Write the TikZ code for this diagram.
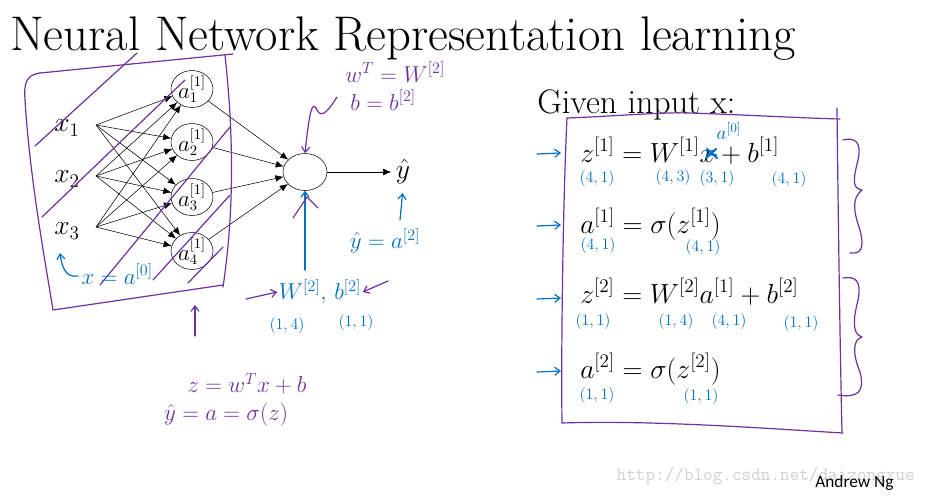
\documentclass[tikz,border=0pt]{standalone}
\usepackage{fontspec}
\newfontfamily\calibri{Carlito}
\usetikzlibrary{arrows.meta,shapes.geometric}
\definecolor{penc}{RGB}{112,48,160}
\definecolor{inkc}{RGB}{0,112,192}
\begin{document}
\begin{tikzpicture}[x=0.75pt,y=-0.75pt,
  neuron/.style={ellipse,draw,thin,inner sep=0pt,minimum width=31.5pt,minimum height=24pt,font=\fontsize{16}{18}\selectfont},
  conn/.style={-{Latex[length=6pt,width=5pt]},thin},
  pen/.style={draw=penc,line width=0.9pt,line cap=round,line join=round},
  ink/.style={draw=inkc,line width=0.9pt,line cap=round,line join=round},
  barb/.style={-{Straight Barb[length=4pt,width=6pt]}},
  pentext/.style={text=penc,font=\fontsize{18}{20}\selectfont},
  inktext/.style={text=inkc,font=\fontsize{18}{20}\selectfont},
  dim/.style={text=inkc,font=\fontsize{13}{15}\selectfont},
  eq/.style={anchor=base west,inner sep=0pt,font=\fontsize{22}{26}\selectfont}]
\useasboundingbox (0,0) rectangle (932,497);
\fill[white] (0,0) rectangle (932,497);

% title
\node[anchor=base west,inner sep=0pt,font=\fontsize{36.5}{42}\selectfont] (title) at (10,50) {Neural Network Representation learning};

% inputs
\node[font=\fontsize{21}{24}\selectfont] (x1) at (67,128) {$x_1$};
\node[font=\fontsize{21}{24}\selectfont] (x2) at (67,179) {$x_2$};
\node[font=\fontsize{21}{24}\selectfont] (x3) at (67,231) {$x_3$};
\coordinate (p1) at (96,125);
\coordinate (p2) at (96,176);
\coordinate (p3) at (96,227);

% hidden
\node[neuron] (h1) at (192,89) {$a^{[1]}_1$};
\node[neuron] (h2) at (192,142) {$a^{[1]}_2$};
\node[neuron] (h3) at (192,197) {$a^{[1]}_3$};
\node[neuron] (h4) at (192,251) {$a^{[1]}_4$};

\foreach \p in {p1,p2,p3}
  \foreach \h in {h1,h2,h3,h4}
    \draw[conn] (\p) -- (\h);

% output
\node[neuron,minimum width=33pt,minimum height=27.75pt] (out) at (305,172) {};
\foreach \h in {h1,h2,h3,h4}
  \draw[conn] (\h) -- (out);
\node[font=\fontsize{21}{24}\selectfont] (yh) at (403,172) {$\hat y$};
\draw[conn] (out) -- (yh);

% purple box around inputs and strokes
\draw[pen] (40,73) -- (233,54);
\draw[pen] (225,55) .. controls (232,120) and (236,200) .. (223,287);
\draw[pen] (40,73) .. controls (25,75) and (24,85) .. (25,100) .. controls (30,180) and (45,260) .. (53,310) -- (223,285);
\draw[pen] (35,146) -- (137,53);
\draw[pen] (42,217) -- (185,80);
\draw[pen] (100,285) -- (230,127);
\draw[pen] (153,280) -- (230,195);
\draw[pen] (188,283) -- (223,247);

% x = a[0]
\coordinate (xa) at (60,253);
\draw[ink,barb] (78,276) .. controls (66,278) and (62,268) .. (xa);
\node[inktext,anchor=west,inner sep=1pt] (xeq) at (80,274) {$x = a^{[0]}$};

% up arrow below box
\coordinate (ua1) at (195,336);
\coordinate (ua2) at (195,305);
\draw[pen,barb] (ua1) -- (ua2);

% squiggle into output
\coordinate (sq) at (337,97);
\draw[pen,barb] (sq) .. controls (330,108) and (322,120) .. (317,110) .. controls (312,98) and (309,115) .. (out.north);
\node[pentext,anchor=west,inner sep=0pt] (wt) at (345,72) {$w^{T} = W^{[2]}$};
\node[pentext,anchor=west,inner sep=0pt] (bb) at (350,100) {$b = b^{[2]}$};

% arrow from below into output
\coordinate (ub) at (305,270);
\draw[ink,barb] (ub) -- (out.south);
\draw[pen] (293,218) -- (307,197) -- (318,208);

% W2, b2
\node[inktext,inner sep=1pt] (wb) at (320,292) {$W^{[2]},\,b^{[2]}$};
\draw[pen,barb] (246,299) -- (wb.west);
\draw[pen,barb] (388,281) -- (wb.east);
\node[dim] (d14) at (287,325) {$(1,4)$};
\node[dim] (d11) at (356,322) {$(1,1)$};

% yhat = a2
\node[inktext,inner sep=0pt] (ya) at (385,241) {$\hat y = a^{[2]}$};
\coordinate (yb) at (400,220);
\draw[ink,barb,shorten >=3pt] (yb) -- (yh.south);

% logistic regression notes
\node[pentext,inner sep=0pt] (zeq) at (247,384) {$z = w^{T}x + b$};
\node[pentext,inner sep=0pt] (yeq) at (226,415) {$\hat y = a = \sigma(z)$};

% right side
\node[anchor=base west,inner sep=0pt,font=\fontsize{25.5}{30}\selectfont] (given) at (537,113) {Given input x:};
\draw[pen] (567,118) .. controls (620,116) and (660,112) .. (690,113) .. controls (750,115) and (800,118) .. (840,119);
\draw[pen] (837,108) .. controls (838,200) and (840,350) .. (842,432);
\draw[pen] (567,118) .. controls (563,200) and (561,350) .. (562,423) .. controls (650,420) and (760,428) .. (843,433);

\node[eq] (e1) at (580,162) {$z^{[1]} = W^{[1]}x + b^{[1]}$};
\node[eq] (e2) at (580,233) {$a^{[1]} = \sigma(z^{[1]})$};
\node[eq] (e3) at (580,303) {$z^{[2]} = W^{[2]}a^{[1]} + b^{[2]}$};
\node[eq] (e4) at (580,378) {$a^{[2]} = \sigma(z^{[2]})$};

% scribble on x and a[0]
\draw[ink,line width=1.6pt] (707,149) -- (717,158) (706,158) -- (716,149) (708,154) -- (716,155);
\node[dim,font=\fontsize{14}{16}\selectfont] (a0) at (729,131) {$a^{[0]}$};

\node[dim] at (597,178) {$(4,1)$};
\node[dim] at (673,177) {$(4,3)$};
\node[dim] at (717,178) {$(3,1)$};
\node[dim] at (789,179) {$(4,1)$};
\node[dim] at (598,245) {$(4,1)$};
\node[dim] at (703,247) {$(4,1)$};
\node[dim] at (593,321) {$(1,1)$};
\node[dim] at (676,321) {$(1,4)$};
\node[dim] at (729,321) {$(4,1)$};
\node[dim] at (801,323) {$(1,1)$};
\node[dim] at (597,395) {$(1,1)$};
\node[dim] at (701,396) {$(1,1)$};

% row arrows
\foreach \y in {153,225,298,371}{
  \draw[ink,barb] (537,\y+1) -- (561,\y);
}

% braces
\draw[pen] (843,140) .. controls (855,137) and (862,142) .. (858,160) .. controls (853,180) and (852,188) .. (862,190) .. controls (852,198) and (853,210) .. (860,230) .. controls (865,250) and (860,254) .. (850,253);
\draw[pen] (843,278) .. controls (855,276) and (862,280) .. (858,300) .. controls (853,320) and (852,334) .. (862,337) .. controls (852,340) and (853,355) .. (860,372) .. controls (865,392) and (858,398) .. (838,395);

% footer
\node[anchor=base west,text=black!18,font=\ttfamily\fontsize{14}{16}\selectfont] (wm) at (612,480) {http://blog.csdn.net/daizongxue};
\node[anchor=base west,inner sep=0pt,font=\calibri\fontsize{13}{15}\selectfont] (ng) at (815,487) {Andrew Ng};
\end{tikzpicture}
\end{document}
